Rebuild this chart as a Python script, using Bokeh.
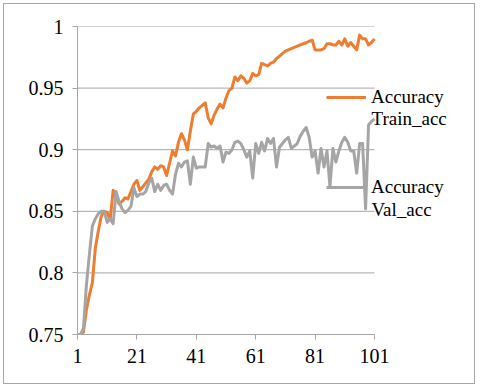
from bokeh.plotting import figure
from bokeh.models import Range1d, FixedTicker, Legend, LegendItem, Label
from bokeh.embed import file_html
from bokeh.resources import INLINE

epochs = list(range(1, 102))

train_acc = [
    0.750, 0.750, 0.752, 0.770, 0.782, 0.792, 0.820, 0.834, 0.846, 0.850,
    0.849, 0.843, 0.867, 0.862, 0.856, 0.858, 0.861, 0.860, 0.866, 0.872,
    0.875, 0.867, 0.870, 0.873, 0.876, 0.882, 0.886, 0.884, 0.887, 0.886,
    0.879, 0.889, 0.899, 0.895, 0.906, 0.913, 0.908, 0.900, 0.915, 0.929,
    0.931, 0.934, 0.936, 0.938, 0.926, 0.921, 0.928, 0.933, 0.937, 0.934,
    0.942, 0.948, 0.950, 0.959, 0.956, 0.960, 0.958, 0.954, 0.956, 0.962,
    0.960, 0.961, 0.970, 0.969, 0.968, 0.970, 0.971, 0.974, 0.976, 0.978,
    0.980, 0.981, 0.982, 0.983, 0.984, 0.985, 0.986, 0.987, 0.988, 0.989,
    0.981, 0.981, 0.981, 0.982, 0.986, 0.986, 0.985, 0.985, 0.988, 0.985,
    0.990, 0.984, 0.987, 0.984, 0.981, 0.993, 0.990, 0.990, 0.985, 0.987,
    0.990,
]

val_acc = [
    0.750, 0.750, 0.755, 0.790, 0.815, 0.838, 0.844, 0.848, 0.850, 0.850,
    0.841, 0.844, 0.840, 0.866, 0.858, 0.852, 0.849, 0.851, 0.854, 0.869,
    0.862, 0.864, 0.864, 0.866, 0.873, 0.877, 0.866, 0.872, 0.867, 0.871,
    0.872, 0.867, 0.864, 0.880, 0.889, 0.886, 0.890, 0.891, 0.872, 0.894,
    0.885, 0.886, 0.886, 0.886, 0.905, 0.902, 0.903, 0.901, 0.903, 0.890,
    0.898, 0.897, 0.900, 0.906, 0.907, 0.905, 0.900, 0.894, 0.899, 0.877,
    0.905, 0.897, 0.906, 0.899, 0.909, 0.905, 0.909, 0.886, 0.902, 0.905,
    0.908, 0.910, 0.901, 0.903, 0.905, 0.911, 0.915, 0.918, 0.910, 0.894,
    0.899, 0.881, 0.901, 0.886, 0.899, 0.870, 0.901, 0.890, 0.899, 0.906,
    0.910, 0.906, 0.899, 0.899, 0.881, 0.905, 0.905, 0.852, 0.920, 0.923,
    0.925,
]

x_ticks = [1, 21, 41, 61, 81, 101]
y_ticks = [0.75, 0.8, 0.85, 0.9, 0.95, 1.0]
y_labels = ["0.75", "0.8", "0.85", "0.9", "0.95", "1"]

legend_name = "Accuracy"
legend_train = "Train_acc"
legend_val = "Val_acc"

ORANGE = "#ED7D31"
GRAY = "#A5A5A5"
AXIS_GRAY = "#A6A6A6"
FONT = "Liberation Serif"

W, H = 472, 381
p = figure(width=W, height=H, output_backend="svg", toolbar_location=None,
           x_range=Range1d(1, 1 + 389 / 2.97), y_range=Range1d(0.75, 1.0),
           min_border_left=73, min_border_top=22, min_border_bottom=51,
           min_border_right=10)
p.styles = {"border": "1px solid #a6a6a6", "margin": "3px"}
p.outline_line_color = None
p.xgrid.visible = False
p.ygrid.visible = False

# horizontal gridlines spanning the category extent
p.segment(x0=[epochs[0]] * len(y_ticks), x1=[epochs[-1]] * len(y_ticks),
          y0=y_ticks, y1=y_ticks, line_color=AXIS_GRAY, line_width=1)

r_train = p.line(epochs, train_acc, line_color=ORANGE, line_width=3,
                 line_join="round")
r_val = p.line(epochs, val_acc, line_color=GRAY, line_width=3,
               line_join="round")

p.axis.axis_line_color = AXIS_GRAY
p.axis.major_tick_line_color = AXIS_GRAY
p.axis.major_tick_out = 5
p.axis.major_tick_in = 0
p.axis.minor_tick_line_color = None
p.axis.major_label_text_font = FONT
p.axis.major_label_text_font_size = "20px"
p.axis.major_label_text_color = "#000000"

p.xaxis.ticker = FixedTicker(ticks=x_ticks)
p.xaxis.bounds = (epochs[0], epochs[-1])
p.xaxis.major_label_standoff = 9
p.yaxis.ticker = FixedTicker(ticks=y_ticks)
p.yaxis.major_label_overrides = {t: l for t, l in zip(y_ticks, y_labels)}
p.yaxis.major_label_standoff = 9

legend = Legend(items=[LegendItem(label=legend_name, renderers=[r_train]),
                       LegendItem(label=legend_name, renderers=[r_val])],
                location=(249, 136), glyph_width=40, glyph_height=22,
                label_standoff=5, spacing=68, padding=0, margin=0,
                border_line_color=None, background_fill_alpha=0,
                label_text_font=FONT, label_text_font_size="19px",
                label_text_color="#000000")
p.add_layout(legend)

for txt, y in ((legend_train, 216), (legend_val, 125)):
    p.add_layout(Label(x=294, y=y, x_units="screen", y_units="screen",
                       text=txt, text_font=FONT, text_font_size="19px",
                       text_color="#000000", text_baseline="middle"))

open("out.html", "w").write(file_html(p, INLINE))
